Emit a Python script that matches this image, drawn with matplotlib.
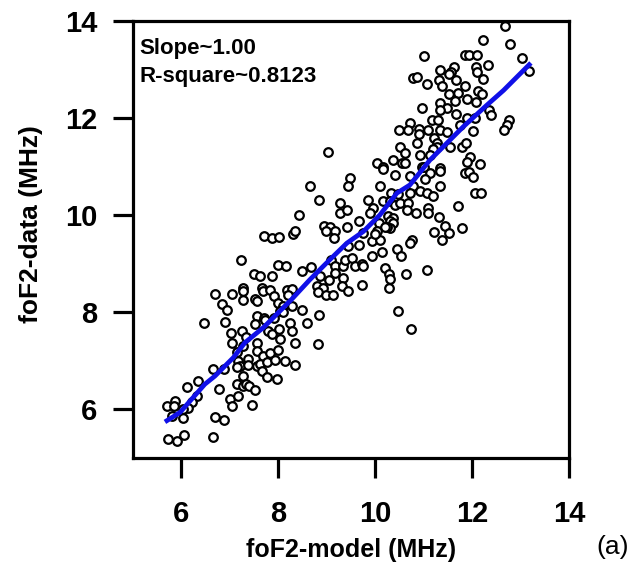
import matplotlib.pyplot as plt

plt.rcParams['font.family'] = ['Liberation Sans', 'DejaVu Sans']

# foF2 model vs data (MHz)
model = [12.69, 12.23, 12.79, 11.00, 11.86, 11.94, 12.10, 13.04, 12.34, 11.63,
         12.08, 12.10, 11.34, 11.56, 11.53, 13.18, 10.79, 10.87, 11.32, 11.67,
         12.22, 11.07, 11.38, 11.86, 12.12, 12.20, 11.53, 11.72, 11.34, 11.65,
         11.89, 12.08, 11.48, 11.35, 10.96, 12.36, 12.39, 11.68, 11.17, 11.29,
         11.89, 12.06, 12.77, 12.72, 12.65, 10.72, 10.49, 10.69, 10.91, 10.91,
         11.10, 11.34, 11.48, 11.75, 12.03, 11.22, 11.27, 11.27, 11.19, 11.13,
         10.87, 10.52, 10.62, 10.93, 11.55, 11.79, 11.88, 11.96, 11.90, 12.16,
         10.04, 10.17, 10.38, 10.55, 9.03, 10.96, 11.34,
         8.65, 8.85, 9.28, 9.28, 8.43, 8.95, 9.07, 9.18, 9.16, 8.99,
         7.71, 7.87, 8.03, 8.30, 8.35, 7.24, 9.09, 8.01, 8.16, 8.49,
         8.69, 7.51, 7.63, 7.87, 8.87, 9.18, 9.18, 9.06, 7.28, 7.27,
         7.27, 7.66, 7.70, 7.84, 7.92, 8.18, 8.28, 8.21, 6.70, 7.05,
         7.53, 7.56, 6.84, 6.94, 8.01, 8.11, 8.04, 8.28, 8.49, 8.80,
         8.93, 8.83, 8.99, 9.14, 8.85, 7.56, 7.71,
         10.16, 10.62, 11.01, 11.13, 11.33, 11.86, 11.94, 12.03, 9.48, 9.45,
         10.41, 10.72, 10.10, 11.03, 10.79, 10.93, 11.07, 11.20, 11.33, 12.06,
         12.18, 10.34, 10.48, 10.72, 10.17, 10.31, 10.41, 10.52, 10.69, 10.65,
         10.85, 11.10, 11.10, 11.72, 9.85, 9.96, 9.90, 9.42, 10.27, 10.38,
         10.31, 10.38, 10.31, 10.24, 9.66, 10.09, 10.21, 11.32, 11.44, 11.79,
         11.22, 11.38, 11.53, 9.42, 9.76, 9.66, 10.04, 9.93, 10.10, 10.00,
         10.76, 10.72, 9.45, 9.35, 9.38, 9.52, 9.59, 9.73, 9.76, 9.93,
         10.14, 10.45, 10.53, 10.21, 10.29, 10.31, 10.64, 11.07, 9.35, 9.31,
         9.45, 9.73, 10.29, 10.48, 10.74,
         6.48, 6.91, 7.53, 7.73, 7.92, 8.11, 8.25, 8.28, 8.59, 7.03,
         7.05, 7.25, 7.35, 7.56, 7.80, 7.87, 8.03, 8.04, 8.35, 8.83,
         7.15, 7.27, 7.39, 7.56, 7.70, 7.84, 7.99, 7.18, 7.22, 7.39,
         7.56, 7.63, 7.77, 7.94, 8.14, 8.35, 7.15, 7.28, 7.66, 7.77,
         7.97, 6.67, 6.89, 7.15, 7.28, 7.35, 7.41, 7.53, 6.79, 6.36,
         6.13, 7.01, 7.17, 7.05, 7.46, 6.32, 6.22, 6.15, 6.05, 5.88,
         5.71, 5.86, 5.81, 6.05, 6.70, 6.89, 5.74, 5.91, 6.06, 6.65]
data = [13.89, 13.60, 13.53, 13.27, 13.29, 13.29, 13.29, 13.23, 13.10, 13.06,
        13.05, 12.95, 12.98, 12.95, 12.91, 12.96, 12.82, 12.84, 12.79, 12.78,
        12.81, 12.71, 12.65, 12.67, 12.55, 12.50, 12.50, 12.52, 12.30, 12.35,
        12.40, 12.33, 12.20, 12.16, 12.20, 12.16, 12.06, 12.08, 11.95, 11.95,
        11.99, 11.99, 11.95, 11.85, 11.75, 11.89, 11.75, 11.75, 11.77, 11.67,
        11.75, 11.76, 11.71, 11.85, 11.74, 11.59, 11.48, 11.41, 11.37, 11.24,
        11.48, 11.41, 11.28, 11.24, 11.41, 11.41, 11.49, 11.20, 11.10, 11.05,
        11.08, 11.00, 11.13, 11.07, 11.30, 11.00, 10.96,
        10.60, 10.30, 10.24, 10.05, 9.99, 9.78, 9.76, 9.66, 9.53, 9.66,
        9.57, 9.53, 9.55, 9.61, 9.66, 9.07, 9.08, 8.96, 8.94, 8.85,
        8.93, 8.79, 8.74, 8.75, 8.74, 8.94, 8.81, 8.66, 8.50, 8.43,
        8.24, 8.50, 8.43, 8.46, 8.34, 8.46, 8.48, 8.36, 8.38, 8.38,
        8.26, 8.22, 8.16, 8.04, 8.19, 8.12, 8.02, 8.12, 8.05, 8.53,
        8.50, 8.41, 8.36, 8.36, 7.94, 7.92, 7.88,
        10.94, 11.08, 10.98, 10.86, 10.91, 10.86, 10.89, 10.79, 10.76, 10.59,
        10.83, 10.80, 10.60, 10.74, 10.59, 10.50, 10.45, 10.39, 10.60, 10.46,
        10.46, 10.45, 10.44, 10.45, 10.28, 10.28, 10.21, 10.24, 10.24, 10.11,
        10.04, 10.14, 10.04, 10.19, 10.30, 10.14, 10.04, 10.11, 9.97, 9.94,
        9.87, 9.83, 9.73, 9.76, 9.87, 9.83, 9.76, 9.95, 9.78, 9.73,
        9.64, 9.49, 9.63, 9.76, 9.63, 9.39, 9.66, 9.46, 9.49, 9.61,
        9.49, 9.42, 9.37, 8.94, 9.08, 9.11, 8.94, 9.00, 8.94, 9.15,
        9.23, 9.29, 9.15, 8.91, 8.79, 8.68, 8.79, 8.87, 8.70, 8.53,
        8.43, 8.55, 8.50, 8.02, 7.64,
        7.77, 7.79, 7.75, 7.83, 7.88, 7.99, 7.78, 7.61, 7.78, 7.57,
        7.37, 7.61, 7.49, 7.37, 7.61, 7.54, 7.64, 7.44, 7.37, 7.33,
        7.18, 7.30, 7.04, 7.20, 7.09, 7.15, 7.22, 6.99, 6.89, 6.90,
        6.89, 6.92, 6.96, 7.01, 6.99, 6.91, 6.86, 6.68, 6.79, 6.65,
        6.62, 6.82, 6.82, 6.51, 6.48, 6.51, 6.47, 6.40, 6.41, 6.58,
        6.45, 6.21, 6.26, 6.07, 6.08, 6.26, 6.14, 6.03, 6.01, 6.17,
        6.06, 6.06, 5.86, 5.82, 5.83, 5.78, 5.38, 5.33, 5.47, 5.43]

# blue fitted curve
fit_x = [5.71, 5.98, 6.49, 6.70, 7.08, 7.32, 7.70, 7.97, 8.28, 8.66, 9.07,
         9.42, 9.76, 10.10, 10.45, 10.72, 11.13, 11.41, 11.82, 12.30, 12.65,
         12.92, 13.18]
fit_y = [5.76, 5.93, 6.51, 6.68, 7.06, 7.37, 7.68, 7.95, 8.26, 8.67, 9.08,
         9.42, 9.66, 10.00, 10.45, 10.62, 11.13, 11.41, 11.82, 12.26, 12.57,
         12.84, 13.10]

ticks = [6, 8, 10, 12, 14]

fig = plt.figure(figsize=(6.34, 5.71), dpi=100)
ax = fig.add_axes([132.5 / 634, 1 - 457.5 / 571, 436.5 / 634, 436.5 / 571])

ax.plot(model, data, 'o', mfc='white', mec='black', ms=6.2, mew=1.6, zorder=2)
ax.plot(fit_x, fit_y, '-', color='#1010e8', lw=3.4, zorder=3)

ax.set_xlim(5.0, 14.0)
ax.set_ylim(5.0, 14.0)
ax.set_xticks(ticks)
ax.set_yticks(ticks)
for s in ax.spines.values():
    s.set_linewidth(2.3)
ax.tick_params(direction='out', length=14.5, width=2.3, labelsize=21)
ax.tick_params(axis='x', pad=16)
ax.tick_params(axis='y', pad=11)
for lab in ax.get_xticklabels() + ax.get_yticklabels():
    lab.set_fontweight('bold')

ax.set_xlabel('foF2-model (MHz)', fontsize=18, fontweight='bold')
ax.set_ylabel('foF2-data (MHz)', fontsize=19, fontweight='bold')
ax.xaxis.set_label_coords(0.5, -0.185)
ax.yaxis.set_label_coords(-0.205, 0.535)

ax.text(0.0156, 0.924, 'Slope~1.00', transform=ax.transAxes, fontsize=16,
        fontweight='bold', va='baseline')
ax.text(0.0156, 0.861, 'R-square~0.8123', transform=ax.transAxes, fontsize=16,
        fontweight='bold', va='baseline')

fig.text(0.94, 0.029, '(a)', fontsize=19, va='baseline')

fig.savefig('out.png', dpi=100)
